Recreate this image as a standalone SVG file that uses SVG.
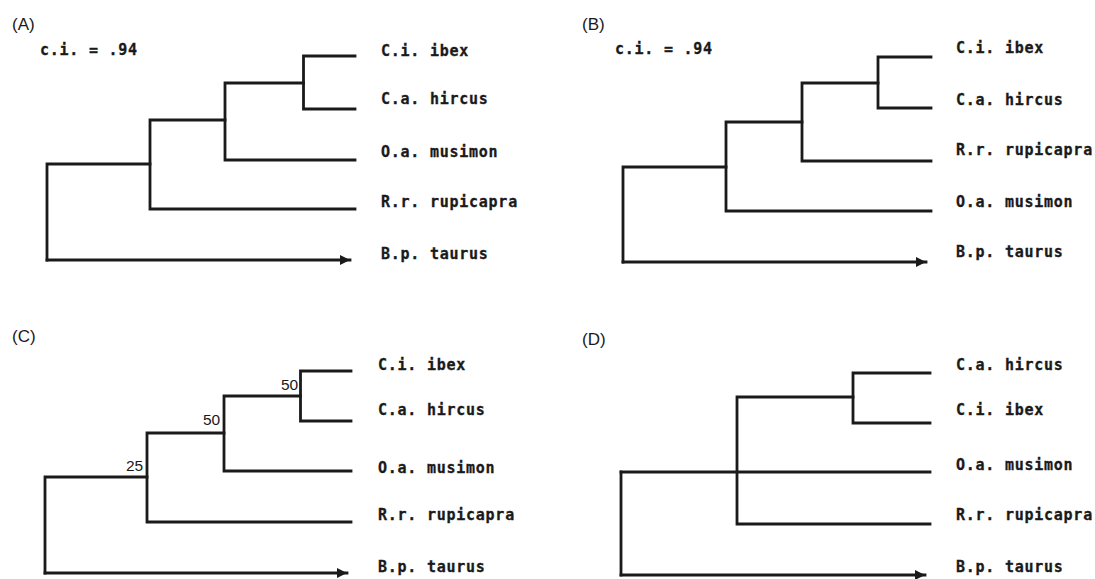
<svg xmlns="http://www.w3.org/2000/svg" width="1095" height="579" viewBox="0 0 1095 579">
  <defs>
    <style>
      .branch { fill: none; stroke: #1a1a1a; stroke-width: 2.8; stroke-linecap: square; stroke-linejoin: miter; }
      .taxon { font-family: "DejaVu Sans Mono", "Liberation Mono", monospace; font-weight: bold; font-size: 15px; letter-spacing: 0.75px; fill: #1a1a1a; stroke: #1a1a1a; stroke-width: 0.3px; }
      .panel { font-family: "Liberation Sans", Arial, sans-serif; font-size: 17px; fill: #1a1a1a; }
      .support { font-family: "Liberation Sans", Arial, sans-serif; font-size: 15.5px; fill: #1a1a1a; }
    </style>
    <marker id="arrow" markerUnits="userSpaceOnUse" markerWidth="11" markerHeight="10" refX="10" refY="5" orient="auto">
      <path d="M0,0 L10,5 L0,10 z" fill="#1a1a1a"/>
    </marker>
  </defs>
  <rect width="1095" height="579" fill="#ffffff"/>

  <!-- Tree A -->
  <g id="tree-A">
    <text class="panel" x="12" y="30">(A)</text>
    <text class="taxon" x="40" y="55">c.i. = .94</text>
    <g id="A-connectors">
      <path class="branch" d="M355,56 H303.5 V109 H355"/>
      <path class="branch" d="M303.5,83 H225 V160 H355"/>
      <path class="branch" d="M225,120 H150 V209 H355"/>
      <path class="branch" d="M150,164 H47 V260"/>
      <path class="branch" d="M47,260 H350" marker-end="url(#arrow)"/>
    </g>
    <g id="A-ibex"><text class="taxon" x="381" y="56">C.i. ibex</text></g>
    <g id="A-hircus"><text class="taxon" x="381" y="104">C.a. hircus</text></g>
    <g id="A-musimon"><text class="taxon" x="381" y="157">O.a. musimon</text></g>
    <g id="A-rupicapra"><text class="taxon" x="381" y="207">R.r. rupicapra</text></g>
    <g id="A-taurus"><text class="taxon" x="381" y="259">B.p. taurus</text></g>
  </g>

  <!-- Tree B -->
  <g id="tree-B">
    <text class="panel" x="582" y="30">(B)</text>
    <text class="taxon" x="615" y="54">c.i. = .94</text>
    <g id="B-connectors">
      <path class="branch" d="M931,57 H878 V108 H931"/>
      <path class="branch" d="M878,83 H802 V161 H931"/>
      <path class="branch" d="M802,122 H726 V211 H931"/>
      <path class="branch" d="M726,167 H623 V262"/>
      <path class="branch" d="M623,262 H926" marker-end="url(#arrow)"/>
    </g>
    <g id="B-ibex"><text class="taxon" x="956" y="53">C.i. ibex</text></g>
    <g id="B-hircus"><text class="taxon" x="956" y="105">C.a. hircus</text></g>
    <g id="B-rupicapra"><text class="taxon" x="956" y="155">R.r. rupicapra</text></g>
    <g id="B-musimon"><text class="taxon" x="956" y="207">O.a. musimon</text></g>
    <g id="B-taurus"><text class="taxon" x="956" y="257">B.p. taurus</text></g>
  </g>

  <!-- Tree C (with support values) -->
  <g id="tree-C">
    <text class="panel" x="12" y="342">(C)</text>
    <g id="C-connectors">
      <path class="branch" d="M351,371 H300.5 V421 H351"/>
      <path class="branch" d="M300.5,396 H224 V471 H351"/>
      <path class="branch" d="M224,433 H147 V522 H351"/>
      <path class="branch" d="M147,477 H45 V573"/>
      <path class="branch" d="M45,573 H347" marker-end="url(#arrow)"/>
    </g>
    <text class="support" x="281" y="390">50</text>
    <text class="support" x="203" y="425">50</text>
    <text class="support" x="126" y="471">25</text>
    <g id="C-ibex"><text class="taxon" x="378" y="370">C.i. ibex</text></g>
    <g id="C-hircus"><text class="taxon" x="378" y="415">C.a. hircus</text></g>
    <g id="C-musimon"><text class="taxon" x="378" y="473">O.a. musimon</text></g>
    <g id="C-rupicapra"><text class="taxon" x="378" y="520">R.r. rupicapra</text></g>
    <g id="C-taurus"><text class="taxon" x="378" y="572">B.p. taurus</text></g>
  </g>

  <!-- Tree D -->
  <g id="tree-D">
    <text class="panel" x="582" y="345">(D)</text>
    <g id="D-connectors">
      <path class="branch" d="M930,373 H853 V423 H930"/>
      <path class="branch" d="M853,397 H737 V524 H930"/>
      <path class="branch" d="M621,472 H930"/>
      <path class="branch" d="M621,472 V575"/>
      <path class="branch" d="M621,575 H925" marker-end="url(#arrow)"/>
    </g>
    <g id="D-hircus"><text class="taxon" x="956" y="370">C.a. hircus</text></g>
    <g id="D-ibex"><text class="taxon" x="956" y="415">C.i. ibex</text></g>
    <g id="D-musimon"><text class="taxon" x="956" y="470">O.a. musimon</text></g>
    <g id="D-rupicapra"><text class="taxon" x="956" y="520">R.r. rupicapra</text></g>
    <g id="D-taurus"><text class="taxon" x="956" y="572">B.p. taurus</text></g>
  </g>
</svg>
